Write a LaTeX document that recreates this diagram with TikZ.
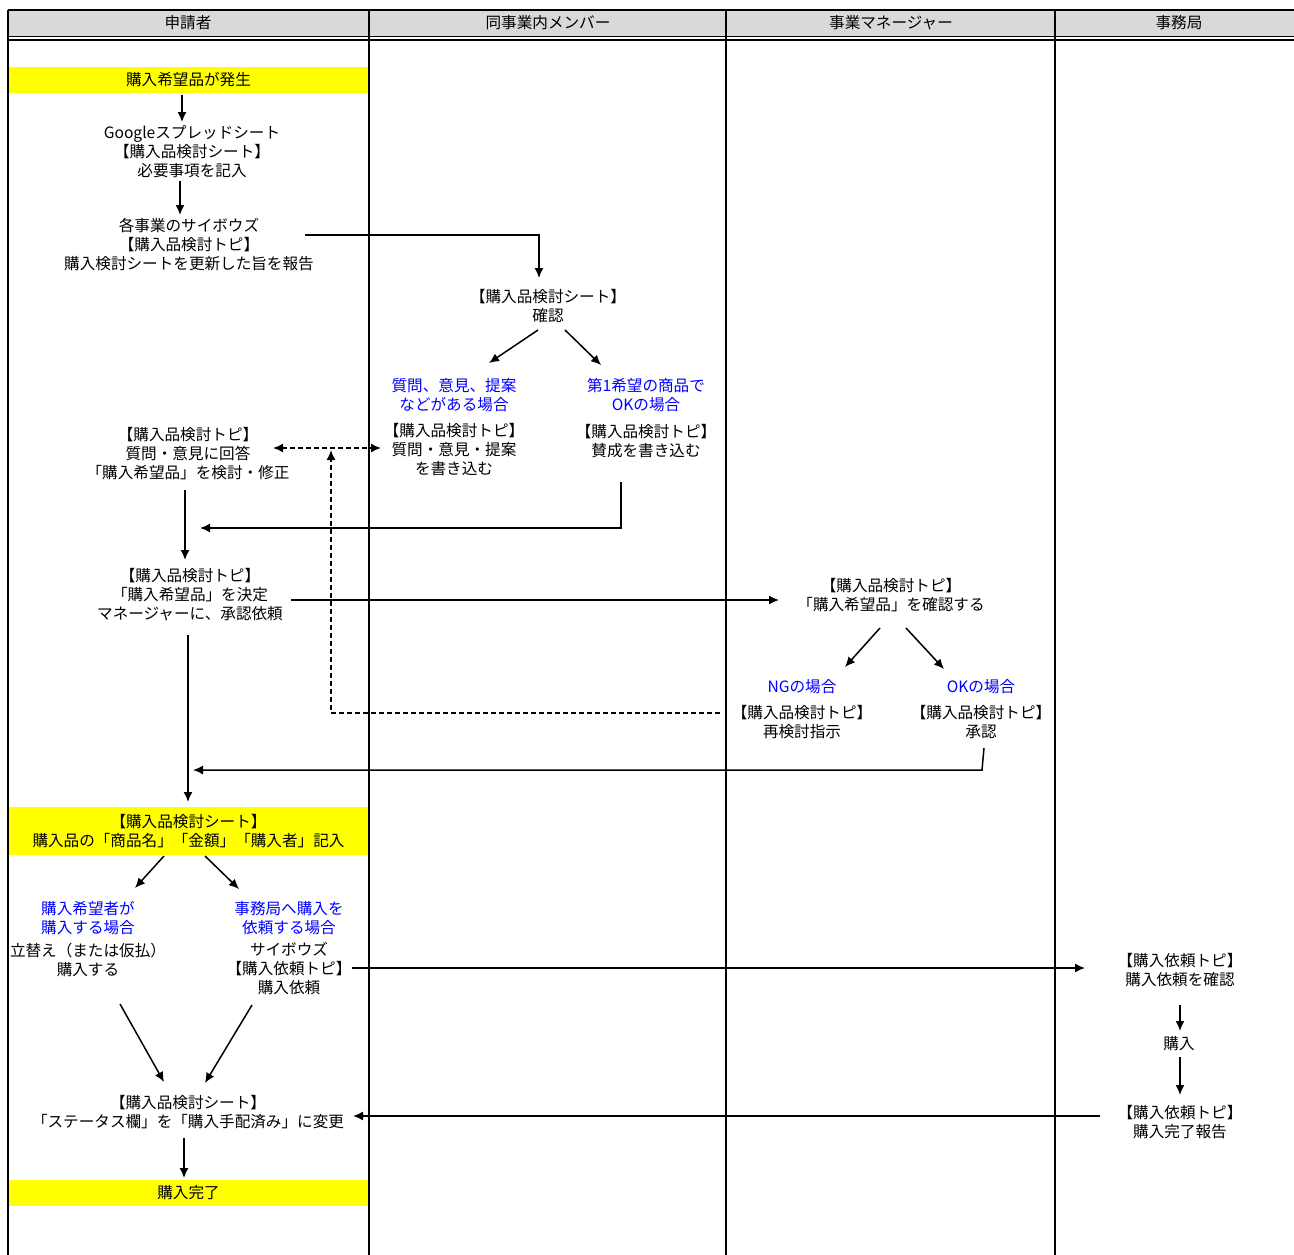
\documentclass[tikz,border=0pt]{standalone}
\usepackage{fontspec}
\setmainfont{Noto Sans CJK JP}
\usetikzlibrary{arrows.meta,calc}
\definecolor{myblue}{RGB}{0,0,255}
\definecolor{band}{RGB}{255,255,0}
\definecolor{hdr}{RGB}{217,217,217}
\begin{document}
\begin{tikzpicture}[x=1pt,y=-1pt,
  txt/.style={align=center, inner sep=0pt, font=\fontsize{15.6}{19}\selectfont},
  bluetxt/.style={txt, text=myblue},
  bandbox/.style={txt, fill=band, minimum width=359pt, inner sep=0pt},
  arr/.style={line width=1.5pt, -{Latex[length=10pt,width=9pt]}},
  darr/.style={arr, dash pattern=on 5pt off 3pt},
  grid/.style={line width=1.2pt}]
\useasboundingbox (0,0) rectangle (1294,1255);
% header
\fill[hdr] (8,10) rectangle (1294,37);
\draw[grid] (8,10) -- (1294,10);
\draw[line width=1pt] (8,37) -- (1294,37);
\draw[line width=2pt] (8,40.5) -- (1294,40.5);
\foreach \x in {8,369,726,1055} \draw[grid] (\x,10) -- (\x,1255);
\node[txt] (h1) at (188,23) {申請者};
\node[txt] (h2) at (548,23) {同事業内メンバー};
\node[txt] (h3) at (891,23) {事業マネージャー};
\node[txt] (h4) at (1179,23) {事務局};
% applicant lane
\node[bandbox, minimum height=26pt] (a1) at (188.5,80) {購入希望品が発生};
\node[txt] (a2) at (192,152) {Googleスプレッドシート\\【購入品検討シート】\\必要事項を記入};
\node[txt] (a3) at (189,245) {各事業のサイボウズ\\【購入品検討トピ】\\購入検討シートを更新した旨を報告};
\node[txt] (a4) at (188,454) {【購入品検討トピ】\\質問・意見に回答\\「購入希望品」を検討・修正};
\node[txt] (a5) at (190,595) {【購入品検討トピ】\\「購入希望品」を決定\\マネージャーに、承認依頼};
\node[bandbox, minimum height=48pt] (a6) at (188.5,831) {【購入品検討シート】\\購入品の「商品名」「金額」「購入者」記入};
\node[bluetxt] (a7) at (88,918) {購入希望者が\\購入する場合};
\node[bluetxt] (a8) at (289,918) {事務局へ購入を\\依頼する場合};
\node[txt] (a9) at (88,960) {立替え（または仮払）\\購入する};
\node[txt] (a10) at (289,969) {サイボウズ\\【購入依頼トピ】\\購入依頼};
\node[txt] (a11) at (188,1112) {【購入品検討シート】\\「ステータス欄」を「購入手配済み」に変更};
\node[bandbox, minimum height=26pt] (a12) at (188.5,1193) {購入完了};
% member lane
\node[txt] (b1) at (548,306) {【購入品検討シート】\\確認};
\node[bluetxt] (b2) at (454,395) {質問、意見、提案\\などがある場合};
\node[bluetxt] (b3) at (646,395) {第1希望の商品で\\OKの場合};
\node[txt] (b4) at (454,450) {【購入品検討トピ】\\質問・意見・提案\\を書き込む};
\node[txt] (b5) at (646,441) {【購入品検討トピ】\\賛成を書き込む};
% manager lane
\node[txt] (c1) at (891,595) {【購入品検討トピ】\\「購入希望品」を確認する};
\node[bluetxt] (c2) at (802,687) {NGの場合};
\node[bluetxt] (c3) at (981,687) {OKの場合};
\node[txt] (c4) at (802,722) {【購入品検討トピ】\\再検討指示};
\node[txt] (c5) at (981,722) {【購入品検討トピ】\\承認};
% office lane
\node[txt] (d1) at (1180,970) {【購入依頼トピ】\\購入依頼を確認};
\node[txt] (d2) at (1179,1044) {購入};
\node[txt] (d3) at (1180,1122) {【購入依頼トピ】\\購入完了報告};
% connectors
\draw[arr] ($(a1)+(-6.5,15)$) -- ($(a2)+(-10,-30)$);
\draw[arr] ($(a2)+(-12,29)$) -- ($(a3)+(-9,-30)$);
\draw[arr] ($(a3)+(116,-10)$) -| ($(b1)+(-9,-28)$);
\draw[arr] ($(b1)+(-10,24)$) -- ($(b2)+(35,-32)$);
\draw[arr] ($(b1)+(17,24)$) -- ($(b3)+(-45,-30)$);
\draw[darr, {Latex[length=10pt,width=9pt]}-{Latex[length=10pt,width=9pt]}] ($(a4)+(85,-6)$) -- ($(b4)+(-73,-2)$);
\draw[darr] ($(c4)+(-82,-9)$) -| ($(a4)+(143,-4)$);
\draw[arr] ($(b5)+(-25,41)$) |- ($(a4)+(12,74)$);
\draw[arr] ($(a4)+(-3,36)$) -- ($(a5)+(-5,-35)$);
\draw[arr] ($(a5)+(101,5)$) -- ($(c1)+(-112,5)$);
\draw[arr] ($(c1)+(-11,33)$) -- ($(c2)+(43,-20)$);
\draw[arr] ($(c1)+(15,33)$) -- ($(c3)+(-37,-18)$);
\draw[arr] ($(c5)+(3,26)$) -- ($(c5)+(1,48)$) -- ($(a5)+(3,175)$);
\draw[arr] ($(a5)+(-2,40)$) -- ($(a6)+(-0.5,-29)$);
\draw[arr] ($(a6)+(-24.5,25)$) -- ($(a7)+(47,-30)$);
\draw[arr] ($(a6)+(16.5,25)$) -- ($(a8)+(-50,-29)$);
\draw[arr] ($(a10)+(63,-1)$) -- ($(d1)+(-95,-2)$);
\draw[arr] ($(d1)+(0,35)$) -- ($(d2)+(1,-13)$);
\draw[arr] ($(d2)+(1,13)$) -- ($(d3)+(0,-27)$);
\draw[arr] ($(d3)+(-80,-6)$) -- ($(a11)+(165,4)$);
\draw[arr] ($(a9)+(32,44)$) -- ($(a11)+(-24,-30)$);
\draw[arr] ($(a10)+(-37,36)$) -- ($(a11)+(17,-29)$);
\draw[arr] ($(a11)+(-4,26)$) -- ($(a12)+(-4.5,-15)$);
\end{tikzpicture}
\end{document}
